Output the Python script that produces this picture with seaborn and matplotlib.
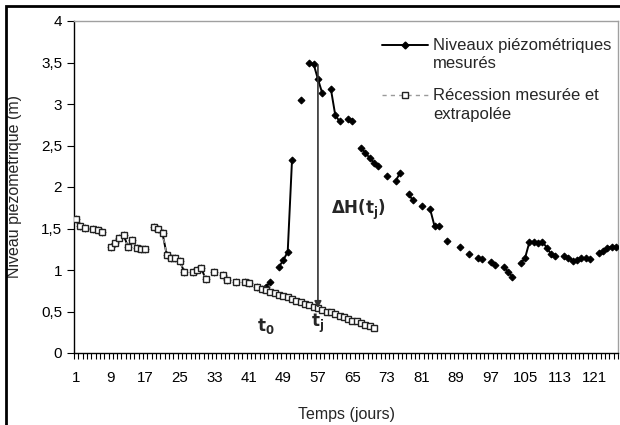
import numpy as np
import pandas as pd
import matplotlib
matplotlib.use("Agg")
import matplotlib.pyplot as plt
from matplotlib.patches import Rectangle
from matplotlib.lines import Line2D
import seaborn as sns

nan = np.nan

# ---- data ----
days = list(range(1, 127))
measured = [
    1.62, 1.53, 1.51, nan, 1.50, 1.48, 1.46, nan,                      # 1-8
    1.28, 1.33, 1.38, 1.42, 1.28, 1.36, 1.27, 1.25, 1.25, nan,         # 9-18
    1.52, 1.50, 1.44, 1.18, 1.15, 1.14, 1.11, 0.98, nan,               # 19-27
    0.97, 1.00, 1.02, 0.89, nan, 0.97, nan, 0.94, 0.88, nan,           # 28-37
    0.86, nan, 0.86, 0.84, nan, 0.79, 0.77, 0.80, 0.86, nan,           # 38-47
    1.04, 1.12, 1.22, 2.33, nan, 3.05, nan, 3.49, 3.48, 3.30, 3.13,    # 48-58
    nan, 3.18, 2.87, 2.79, nan, 2.82, 2.80, nan,                       # 59-66
    2.47, 2.41, 2.35, 2.29, 2.25, nan, 2.13, nan, 2.07, 2.17, nan,     # 67-77
    1.91, 1.84, nan, 1.77, nan, 1.73, 1.53, 1.53, nan, 1.35,           # 78-87
    nan, nan, 1.28, nan, 1.19, nan, 1.15, 1.13, nan, 1.10, 1.06,       # 88-98
    nan, 1.04, 0.98, 0.92, nan,                                        # 99-103
    1.08, 1.15, 1.34, 1.34, 1.33, 1.34, 1.27, 1.19, 1.17, nan,         # 104-113
    1.17, 1.15, 1.11, 1.12, 1.14, 1.14, 1.13, nan,                     # 114-121
    1.20, 1.23, 1.27, 1.28, 1.28,                                      # 122-126
]
recession_measured_until = 44
recession_extrap = [0.76, 0.74, 0.72, 0.70, 0.69, 0.67, 0.65, 0.63, 0.61,
                    0.59, 0.58, 0.56, 0.54, 0.52, 0.50, 0.49, 0.47, 0.45,
                    0.43, 0.41, 0.39, 0.38, 0.36, 0.34, 0.32, 0.30]   # days 45-70
xtick_labels = [str(d) for d in range(1, 122, 8)]
ytick_values = [0, 0.5, 1, 1.5, 2, 2.5, 3, 3.5, 4]
t0_day, tj_day = 45, 57
arrow_top = 3.47

recession = measured[:recession_measured_until] + recession_extrap
rec_days = days[:len(recession)]

def to_df(x, y):
    df = pd.DataFrame({"jour": x, "niveau": y})
    df["seg"] = df["niveau"].isna().cumsum()
    return df.dropna()

df_m = to_df(days, measured)
df_r = to_df(rec_days, recession)

# ---- style ----
sns.set_theme(style="ticks")
plt.rcParams["font.family"] = ["Liberation Sans", "DejaVu Sans"]
plt.rcParams["axes.edgecolor"] = "black"

fig = plt.figure(figsize=(6.2, 4.25), dpi=100)
ax = fig.add_axes([74/620, 1-353/425, (618-74)/620, (353-21)/425])

sns.lineplot(data=df_m, x="jour", y="niveau", units="seg", estimator=None,
             color="black", lw=1.4, marker="D", markersize=3.5,
             markeredgecolor="black", ax=ax, zorder=3)
sns.lineplot(data=df_r, x="jour", y="niveau", units="seg", estimator=None,
             color="#9a9a9a", lw=1.0, linestyle=(0, (3, 3)), marker="s",
             markersize=4.2, markerfacecolor="white", markeredgecolor="#222222",
             markeredgewidth=1.0, ax=ax, zorder=4)

# arrow dH
rec_tj = recession[tj_day - 1]
ax.annotate("", xy=(tj_day, rec_tj), xytext=(tj_day, arrow_top),
            arrowprops=dict(arrowstyle="-|>", color="#333333", lw=1.2,
                            shrinkA=0, shrinkB=0, mutation_scale=10), zorder=5)
ax.text(60, 1.72, r"$\mathbf{\Delta H(t_j)}$", fontsize=12, ha="left", va="center")
ax.text(t0_day, 0.33, r"$\mathbf{t_0}$", fontsize=12, ha="center", va="center")
ax.text(tj_day, 0.36, r"$\mathbf{t_j}$", fontsize=12, ha="center", va="center")

# axes
ax.set_xlim(0.5, 126.5)
ax.set_ylim(0, 4)
ax.set_xticks(range(1, 122, 8))
ax.set_xticklabels(xtick_labels)
ax.set_xticks(np.arange(0.5, 127, 1), minor=True)
ax.tick_params(axis="x", which="major", length=0, labelsize=10.8, pad=13, colors="black")
ax.tick_params(axis="x", which="minor", length=4, width=0.8, direction="out", color="black")
ax.set_yticks(ytick_values)
ax.set_yticklabels([("%g" % v).replace(".", ",") for v in ytick_values])
ax.tick_params(axis="y", which="major", length=5, width=0.8, direction="out",
               labelsize=11, colors="black")
for s in ["left", "bottom"]:
    ax.spines[s].set_color("black")
    ax.spines[s].set_linewidth(1.0)
for s in ["top", "right"]:
    ax.spines[s].set_visible(True)
    ax.spines[s].set_color("#a0a0a0")
    ax.spines[s].set_linewidth(1.0)

ax.set_xlabel("Temps (jours)", fontsize=11.5)
ax.set_ylabel("Niveau piézométrique (m)", fontsize=11.5)
ax.xaxis.set_label_coords(0.5, -0.162)
ax.yaxis.set_label_coords(-0.096, 0.5)

# legend
h1 = Line2D([], [], color="black", lw=1.4, marker="D", markersize=3.5)
h2 = Line2D([], [], color="#9a9a9a", lw=1.0, linestyle=(0, (3, 3)), marker="s",
            markersize=4.2, markerfacecolor="white", markeredgecolor="#222222")
leg = ax.legend([h1, h2], ["Niveaux piézométriques\nmesurés",
                           "Récession mesurée et\nextrapolée"],
                loc="upper left", bbox_to_anchor=(0.55, 0.975), frameon=False,
                fontsize=12, handlelength=2.8, handletextpad=0.3,
                labelspacing=1.0, borderpad=0, handleheight=1.2)
for t in leg.get_texts():
    t.set_linespacing(1.3)
try:
    for col in leg._legend_handle_box.get_children():
        for hp in col.get_children():
            hp.align = "top"
except Exception:
    pass

# figure border (left/top visible)
fig.patches.append(Rectangle((6/620, -0.1), 1.2, 1 - 6/425 + 0.1,
                             transform=fig.transFigure, fill=False,
                             edgecolor="black", lw=2, zorder=0))

fig.savefig("out.png", dpi=100)
